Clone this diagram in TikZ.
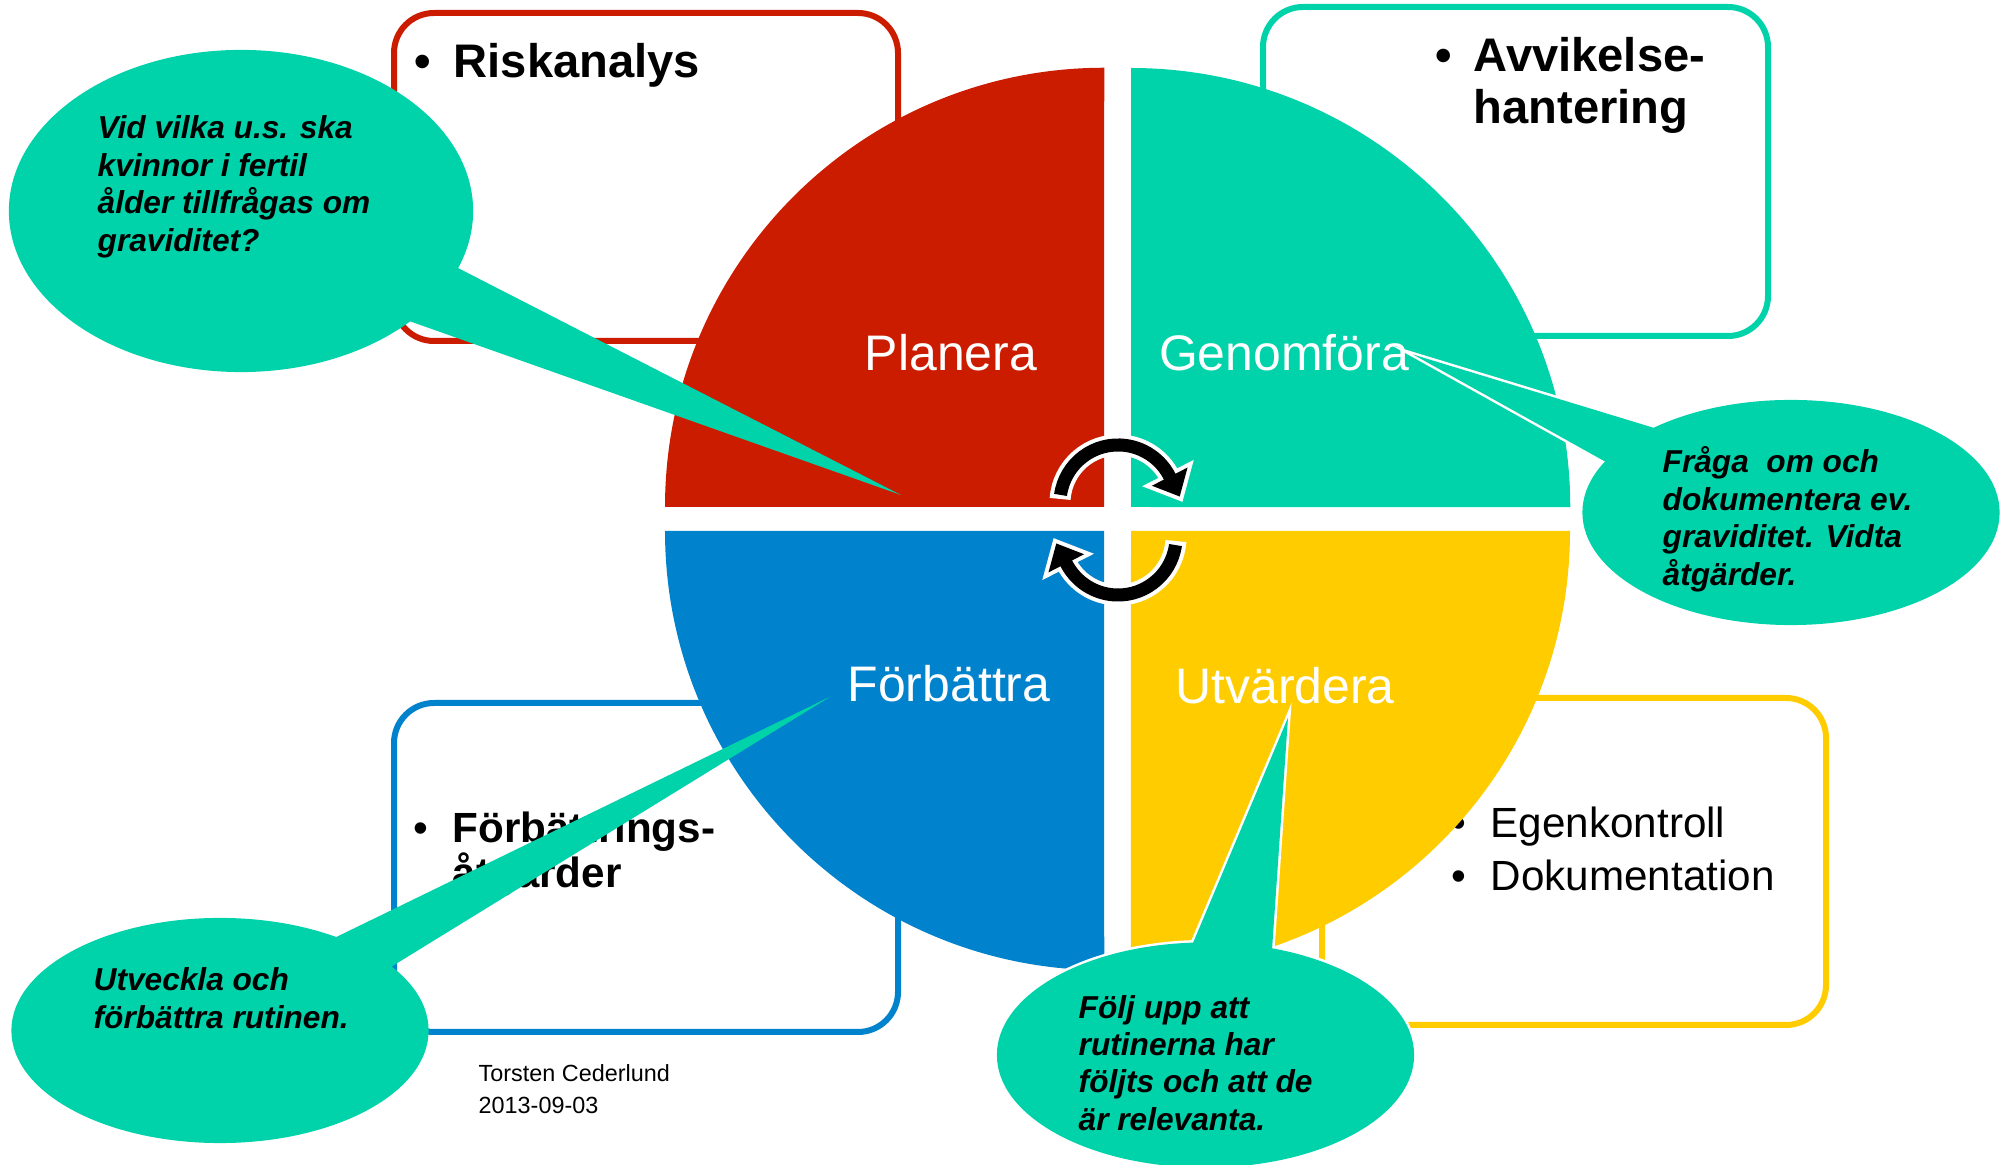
\documentclass[tikz,border=0pt]{standalone}
\usepackage{fontspec}
\setmainfont{Liberation Sans}
\definecolor{pdred}{RGB}{204,28,0}
\definecolor{pdteal}{RGB}{0,210,170}
\definecolor{pdblue}{RGB}{0,130,204}
\definecolor{pdyellow}{RGB}{255,204,0}
\tikzset{
  infobox/.style={line width=0.06cm, rounded corners=0.4cm, fill=white},
  quadlabel/.style={text=white, font=\fontsize{14.2}{17}\selectfont, anchor=base, inner sep=0pt},
  boxbold/.style={font=\fontsize{13.4}{16}\selectfont\bfseries, anchor=base west, inner sep=0pt},
  boxboldsm/.style={font=\fontsize{12}{14}\selectfont\bfseries, anchor=base west, inner sep=0pt},
  boxreg/.style={font=\fontsize{12}{14}\selectfont, anchor=base west, inner sep=0pt},
  bulbold/.style={font=\fontsize{13.4}{16}\selectfont\bfseries, anchor=base, inner sep=0pt},
  bulreg/.style={font=\fontsize{12}{14}\selectfont, anchor=base, inner sep=0pt},
  bubtext/.style={font=\fontsize{9}{11}\selectfont\bfseries\itshape, anchor=base west, inner sep=0pt},
  foottext/.style={font=\fontsize{6.65}{8}\selectfont, anchor=base west, inner sep=0pt},
  bubble/.style={fill=pdteal},
  bubbleedge/.style={draw=white, line width=0.05cm},
  cyclearr/.pic={
    \draw[white, line width=0.21cm] (176:0.58cm) arc[start angle=176, end angle=27, radius=0.58cm];
    \draw[white, line width=0.08cm, line join=miter] (27:0.78cm) -- (6:0.62cm) -- (27:0.38cm) -- cycle;
    \draw[black, line width=0.13cm] (172:0.58cm) arc[start angle=172, end angle=26, radius=0.58cm];
    \fill[black] (27:0.78cm) -- (6:0.62cm) -- (27:0.38cm) -- cycle;
  }
}
\begin{document}
\begin{tikzpicture}[x=0.01cm, y=-0.01cm]
\useasboundingbox[fill=white] (0,0) rectangle (2012,1165);

% info boxes
\draw[infobox, draw=pdred]    (394,13)   rectangle (898,341);
\draw[infobox, draw=pdteal]   (1263,7)   rectangle (1768,336);
\draw[infobox, draw=pdblue]   (394,703)  rectangle (898,1032);
\draw[infobox, draw=pdyellow] (1322,698) rectangle (1826,1025);

% box texts
\node[bulbold] (b1) at (423,78) {•};
\node[boxbold] (t1) at (453,78) {Riskanalys};
\node[bulbold] (b2) at (1444,72) {•};
\node[boxbold] (t2a) at (1473,72) {Avvikelse-};
\node[boxbold] (t2b) at (1473,124) {hantering};
\node[bulreg] (b3) at (421,843) {•};
\node[boxboldsm] (t3a) at (452,843) {Förbättrings-};
\node[boxboldsm] (t3b) at (452,888) {åtgärder};
\node[bulreg] (b4a) at (1459,838) {•};
\node[boxreg] (t4a) at (1490,838) {Egenkontroll};
\node[bulreg] (b4b) at (1459,891) {•};
\node[boxreg] (t4b) at (1490,891) {Dokumentation};

% quadrants
\fill[pdred]    (1104,507) -- (665,507)  arc[start angle=180, end angle=90,  radius=4.39cm] -- cycle;
\fill[pdteal]   (1131,507) -- (1131,68)  arc[start angle=90,  end angle=0,   radius=4.39cm] -- cycle;
\fill[pdblue]   (1104,531) -- (665,531)  arc[start angle=180, end angle=270, radius=4.39cm] -- cycle;
\fill[pdyellow] (1131,531) -- (1570,531) arc[start angle=0,   end angle=-90, radius=4.39cm] -- cycle;

% quadrant labels
\node[quadlabel] (planera) at (951,371) {Planera};
\node[quadlabel] (genom) at (1284,371) {Genomföra};
\node[quadlabel] (forb) at (949,702) {Förbättra};
\node[quadlabel] (utv) at (1285,704) {Utvärdera};

% cycle arrows
\pic at (1118,503) {cyclearr};
\pic[rotate=180] at (1118,537) {cyclearr};

% bubble 1 (top left)
\fill[bubble] (241,211) ellipse [x radius=2.32cm, y radius=1.61cm];
\fill[bubble] (415,246) -- (901,495) -- (361,304) -- cycle;
\node[bubtext] (q1a) at (97,139) {Vid vilka u.s. ska};
\node[bubtext] (q1b) at (97,176.5) {kvinnor i fertil};
\node[bubtext] (q1c) at (97,214) {ålder tillfrågas om};
\node[bubtext] (q1d) at (97,251.5) {graviditet?};

% bubble 2 (right)
\path[bubbleedge] (1791,512.5) ellipse [x radius=2.085cm, y radius=1.125cm];
\path[bubbleedge] (1687,438) -- (1413,354.5) -- (1631,476) -- cycle;
\fill[bubble] (1791,512.5) ellipse [x radius=2.085cm, y radius=1.125cm];
\fill[bubble] (1687,438) -- (1413,354.5) -- (1631,476) -- cycle;
\node[bubtext] (q2a) at (1662,473) {Fråga\ \ om och};
\node[bubtext] (q2b) at (1662,510.5) {dokumentera ev.};
\node[bubtext] (q2c) at (1662,548) {graviditet. Vidta};
\node[bubtext] (q2d) at (1662,586) {åtgärder.};

% bubble 3 (bottom left)
\fill[bubble] (220,1030.5) ellipse [x radius=2.085cm, y radius=1.125cm];
\fill[bubble] (287,961) -- (830.6,696.5) -- (347,994) -- cycle;
\node[bubtext] (q3a) at (93,991) {Utveckla och};
\node[bubtext] (q3b) at (93,1028.5) {förbättra rutinen.};

% bubble 4 (bottom centre)
\path[bubbleedge] (1205.5,1055) ellipse [x radius=2.085cm, y radius=1.125cm];
\path[bubbleedge] (1183.5,965.5) -- (1288,717.7) -- (1270.4,973) -- cycle;
\fill[bubble] (1205.5,1055) ellipse [x radius=2.085cm, y radius=1.125cm];
\fill[bubble] (1183.5,965.5) -- (1288,717.7) -- (1270.4,973) -- cycle;
\node[bubtext] (q4a) at (1078,1018.5) {Följ upp att};
\node[bubtext] (q4b) at (1078,1055.5) {rutinerna har};
\node[bubtext] (q4c) at (1078,1093) {följts och att de};
\node[bubtext] (q4d) at (1078,1130.5) {är relevanta.};

% footer
\node[foottext] (author) at (478,1082) {Torsten Cederlund};
\node[foottext] (date) at (478,1113.5) {2013-09-03};
\end{tikzpicture}
\end{document}
